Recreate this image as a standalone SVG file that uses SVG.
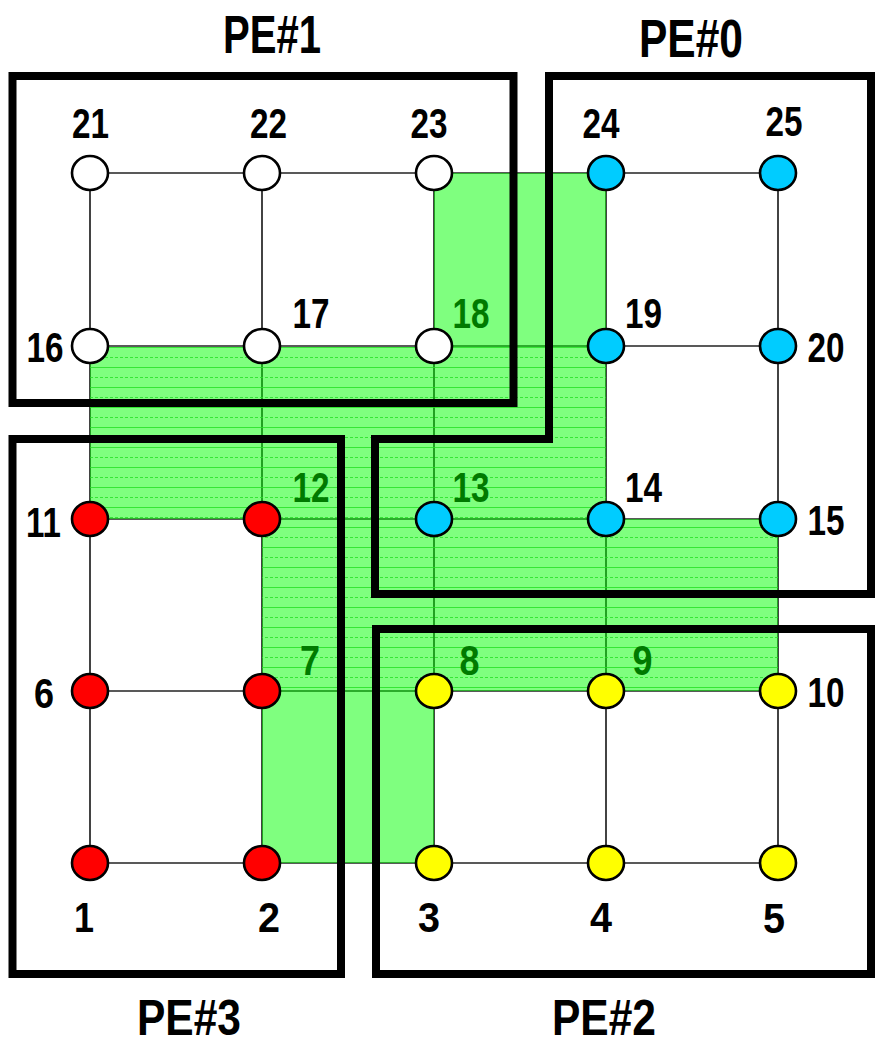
<svg xmlns="http://www.w3.org/2000/svg" width="876" height="1045" viewBox="0 0 876 1045">
<defs>
<style>
.edge{stroke:#222;stroke-width:1.7;fill:none}
.pe{fill:none;stroke:#000;stroke-width:8;stroke-linejoin:miter}
.n{stroke:#000;stroke-width:2.6}
.w{fill:#fff}.c{fill:#00ccff}.r{fill:#ff0000}.y{fill:#ffff00}
.t{font-family:"Liberation Sans",Arial,sans-serif;font-size:42px;font-weight:bold;fill:#000;text-anchor:middle}
.g{fill:#007a00}
.pt{font-family:"Liberation Sans",Arial,sans-serif;font-size:53px;font-weight:bold;fill:#000;text-anchor:middle}
.pb{font-size:50px}
</style>
<pattern id="stripes" width="20" height="20" patternUnits="userSpaceOnUse" x="0" y="347">
<line x1="0" y1="0.5" x2="20" y2="0.5" stroke="#22e022" stroke-width="1"/>
<line x1="0" y1="10.5" x2="20" y2="10.5" stroke="#22e022" stroke-width="1" stroke-dasharray="3,2"/>
</pattern>
<clipPath id="greenClip">
<polygon points="434,173 606,173 606,519 778,519 778,691 434,691 434,863 262,863 262,519 90,519 90,347 434,347"/>
</clipPath>
</defs>
<rect width="876" height="1045" fill="#fff"/>
<g id="connectors">
<line class="edge" x1="90" y1="173" x2="778" y2="173"/>
<line class="edge" x1="90" y1="346" x2="778" y2="346"/>
<line class="edge" x1="90" y1="519" x2="778" y2="519"/>
<line class="edge" x1="90" y1="691" x2="778" y2="691"/>
<line class="edge" x1="90" y1="863" x2="778" y2="863"/>
<line class="edge" x1="90" y1="173" x2="90" y2="863"/>
<line class="edge" x1="262" y1="173" x2="262" y2="863"/>
<line class="edge" x1="434" y1="173" x2="434" y2="863"/>
<line class="edge" x1="606" y1="173" x2="606" y2="863"/>
<line class="edge" x1="778" y1="173" x2="778" y2="863"/>
</g>
<g id="overlap">
<polygon points="434,173 606,173 606,519 778,519 778,691 434,691 434,863 262,863 262,519 90,519 90,347 434,347" fill="#00ff00" fill-opacity="0.5"/>
<rect x="90" y="347" width="688" height="344" fill="url(#stripes)" clip-path="url(#greenClip)" opacity="0.8"/>
</g>
<g id="pe1"><rect class="pe" x="12.5" y="76" width="501" height="327"/><text class="pt" x="272" y="53" textLength="98" lengthAdjust="spacingAndGlyphs">PE#1</text></g>
<g id="pe0"><polygon class="pe" points="549,76 871,76 871,594 375,594 375,439 549,439"/><text class="pt" x="691" y="57" textLength="104" lengthAdjust="spacingAndGlyphs">PE#0</text></g>
<g id="pe3"><rect class="pe" x="12.5" y="439" width="328.5" height="535"/><text class="pt pb" x="189" y="1035" textLength="104" lengthAdjust="spacingAndGlyphs">PE#3</text></g>
<g id="pe2"><rect class="pe" x="376" y="629" width="495" height="345"/><text class="pt pb" x="604" y="1035" textLength="104" lengthAdjust="spacingAndGlyphs">PE#2</text></g>
<g id="n21"><ellipse class="n w" cx="90" cy="173" rx="18" ry="17"/><text class="t" x="90.5" y="138" textLength="37" lengthAdjust="spacingAndGlyphs">21</text></g>
<g id="n22"><ellipse class="n w" cx="262" cy="173" rx="18" ry="17"/><text class="t" x="268.5" y="138" textLength="37" lengthAdjust="spacingAndGlyphs">22</text></g>
<g id="n23"><ellipse class="n w" cx="434" cy="173" rx="18" ry="17"/><text class="t" x="429" y="138" textLength="37" lengthAdjust="spacingAndGlyphs">23</text></g>
<g id="n24"><ellipse class="n c" cx="606" cy="173" rx="18" ry="17"/><text class="t" x="601" y="138" textLength="37" lengthAdjust="spacingAndGlyphs">24</text></g>
<g id="n25"><ellipse class="n c" cx="778" cy="173" rx="18" ry="17"/><text class="t" x="784" y="136" textLength="37" lengthAdjust="spacingAndGlyphs">25</text></g>
<g id="n16"><ellipse class="n w" cx="90" cy="346" rx="18" ry="17"/><text class="t" x="45" y="362" textLength="37" lengthAdjust="spacingAndGlyphs">16</text></g>
<g id="n17"><ellipse class="n w" cx="262" cy="346" rx="18" ry="17"/><text class="t" x="311" y="328" textLength="37" lengthAdjust="spacingAndGlyphs">17</text></g>
<g id="n18"><ellipse class="n w" cx="434" cy="346" rx="18" ry="17"/><text class="t g" x="471" y="328" textLength="37" lengthAdjust="spacingAndGlyphs">18</text></g>
<g id="n19"><ellipse class="n c" cx="606" cy="346" rx="18" ry="17"/><text class="t" x="643.5" y="328" textLength="37" lengthAdjust="spacingAndGlyphs">19</text></g>
<g id="n20"><ellipse class="n c" cx="778" cy="346" rx="18" ry="17"/><text class="t" x="826" y="362" textLength="37" lengthAdjust="spacingAndGlyphs">20</text></g>
<g id="n11"><ellipse class="n r" cx="90" cy="519" rx="18" ry="17"/><text class="t" x="43.5" y="537" textLength="35" lengthAdjust="spacingAndGlyphs">11</text></g>
<g id="n12"><ellipse class="n r" cx="262" cy="519" rx="18" ry="17"/><text class="t g" x="311" y="502" textLength="37" lengthAdjust="spacingAndGlyphs">12</text></g>
<g id="n13"><ellipse class="n c" cx="434" cy="519" rx="18" ry="17"/><text class="t g" x="471" y="502" textLength="37" lengthAdjust="spacingAndGlyphs">13</text></g>
<g id="n14"><ellipse class="n c" cx="606" cy="519" rx="18" ry="17"/><text class="t" x="643.5" y="502" textLength="37" lengthAdjust="spacingAndGlyphs">14</text></g>
<g id="n15"><ellipse class="n c" cx="778" cy="519" rx="18" ry="17"/><text class="t" x="826" y="535" textLength="37" lengthAdjust="spacingAndGlyphs">15</text></g>
<g id="n6"><ellipse class="n r" cx="90" cy="691" rx="18" ry="17"/><text class="t" x="44" y="708" textLength="20" lengthAdjust="spacingAndGlyphs">6</text></g>
<g id="n7"><ellipse class="n r" cx="262" cy="691" rx="18" ry="17"/><text class="t g" x="310" y="675" textLength="20" lengthAdjust="spacingAndGlyphs">7</text></g>
<g id="n8"><ellipse class="n y" cx="434" cy="691" rx="18" ry="17"/><text class="t g" x="469.5" y="675" textLength="20" lengthAdjust="spacingAndGlyphs">8</text></g>
<g id="n9"><ellipse class="n y" cx="606" cy="691" rx="18" ry="17"/><text class="t g" x="642.5" y="675" textLength="20" lengthAdjust="spacingAndGlyphs">9</text></g>
<g id="n10"><ellipse class="n y" cx="778" cy="691" rx="18" ry="17"/><text class="t" x="826" y="707" textLength="37" lengthAdjust="spacingAndGlyphs">10</text></g>
<g id="n1"><ellipse class="n r" cx="90" cy="863" rx="18" ry="17"/><text class="t" x="84" y="932" textLength="20" lengthAdjust="spacingAndGlyphs">1</text></g>
<g id="n2"><ellipse class="n r" cx="262" cy="863" rx="18" ry="17"/><text class="t" x="269" y="932" textLength="22" lengthAdjust="spacingAndGlyphs">2</text></g>
<g id="n3"><ellipse class="n y" cx="434" cy="863" rx="18" ry="17"/><text class="t" x="429" y="932" textLength="22" lengthAdjust="spacingAndGlyphs">3</text></g>
<g id="n4"><ellipse class="n y" cx="606" cy="863" rx="18" ry="17"/><text class="t" x="601" y="932" textLength="22" lengthAdjust="spacingAndGlyphs">4</text></g>
<g id="n5"><ellipse class="n y" cx="778" cy="863" rx="18" ry="17"/><text class="t" x="774" y="933" textLength="22" lengthAdjust="spacingAndGlyphs">5</text></g>
</svg>
